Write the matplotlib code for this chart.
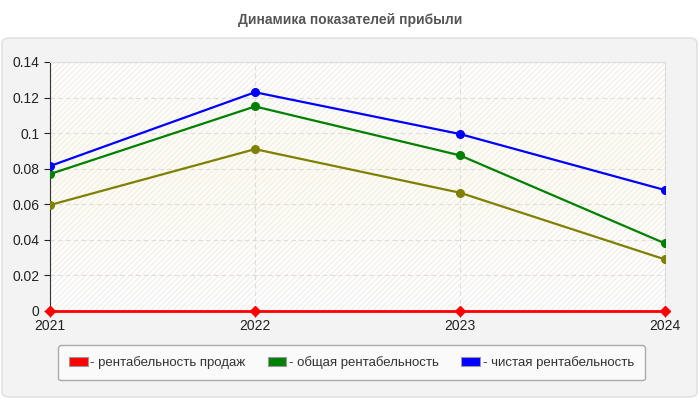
import numpy as np
import matplotlib
matplotlib.use("Agg")
import matplotlib.pyplot as plt
from matplotlib.patches import FancyBboxPatch, Patch, Rectangle

plt.rcParams['font.family'] = ['Liberation Sans', 'DejaVu Sans']

# data
years = [2021, 2022, 2023, 2024]
sales_margin = [0.0, 0.0, 0.0, 0.0]
olive_series = [0.0596, 0.091, 0.0665, 0.029]
total_margin = [0.077, 0.115, 0.0875, 0.038]
net_margin = [0.0815, 0.123, 0.0995, 0.068]

labels = ['- рентабельность продаж', '- общая рентабельность', '- чистая рентабельность']
title = 'Динамика показателей прибыли'

W, H = 700, 400
fig = plt.figure(figsize=(7, 4), dpi=100)
fig.patch.set_facecolor('white')

# outer grey panel
panel = FancyBboxPatch((2 / W, 3 / H), 695 / W, (397 - 38) / H,
                       boxstyle="round,pad=0,rounding_size=0.012",
                       transform=fig.transFigure, facecolor='#f3f3f3',
                       edgecolor='#e2e2e2', linewidth=1.2, zorder=-10)
fig.patches.append(panel)

fig.text(0.5, 1 - 20 / H, title, ha='center', va='center',
         fontsize=10, fontweight='bold', color='#555555')

ax = fig.add_axes([50 / W, 1 - 311 / H, 615 / W, 249 / H])
ax.set_facecolor('white')

# light gradient background with faint hatching
grad = np.linspace(0, 1, 200)
tint = np.exp(-((grad - 0.45) / 0.3) ** 2)
img = np.ones((200, 1, 3))
img[:, 0, 2] = 1 - 0.06 * tint
img[:, 0, 1] = 1 - 0.01 * tint
ax.imshow(img, extent=[2021, 2024, 0, 0.14], aspect='auto', zorder=0,
          interpolation='bilinear')
ax.add_patch(Rectangle((2021, 0), 3, 0.14, facecolor='none', edgecolor='#f0f0f0',
                       hatch='//////', linewidth=0, zorder=0.5))

ax.plot(years, olive_series, color='#808000', lw=1.6, marker='o', ms=5.5, zorder=3)
ax.plot(years, total_margin, color='#008000', lw=1.6, marker='o', ms=5.5, zorder=4)
ax.plot(years, net_margin, color='#0000ff', lw=1.6, marker='o', ms=5.5, zorder=5)
ax.plot(years, sales_margin, color='#ff0000', lw=2, marker='D', ms=5, zorder=6,
        clip_on=False)

ax.set_xlim(2021, 2024)
ax.set_ylim(0, 0.14)
ax.set_xticks(years)
ax.set_xticklabels([str(y) for y in years])
yt = np.arange(0, 0.141, 0.02)
ax.set_yticks(yt)
ax.set_yticklabels(['0', '0.02', '0.04', '0.06', '0.08', '0.1', '0.12', '0.14'])
ax.tick_params(axis='both', labelsize=10, colors='#222222', length=4, width=0.8,
               direction='out')
ax.tick_params(axis='x', pad=2)
ax.grid(True, color='#dddddd', linestyle=(0, (4, 3)), linewidth=0.8)
ax.set_axisbelow(True)

for side in ['top', 'right']:
    ax.spines[side].set_color('#dddddd')
ax.spines['left'].set_color('#333333')
ax.spines['bottom'].set_color('#333333')

handles = [Patch(facecolor=c, edgecolor='#999999', linewidth=0.8)
           for c in ['#ff0000', '#008000', '#0000ff']]
leg = fig.legend(handles, labels, loc='upper left', ncol=3,
                 bbox_to_anchor=(58 / W, 1 - 345 / H), borderaxespad=0,
                 fontsize=9.5, frameon=True, fancybox=True, handlelength=1.4,
                 handleheight=0.7, handletextpad=0.2, columnspacing=1.7,
                 borderpad=0.85, labelcolor='#333333')
leg.get_frame().set_facecolor('#fafafa')
leg.get_frame().set_edgecolor('#aaaaaa')
leg.get_frame().set_alpha(1)

fig.savefig('out.png', dpi=100)
